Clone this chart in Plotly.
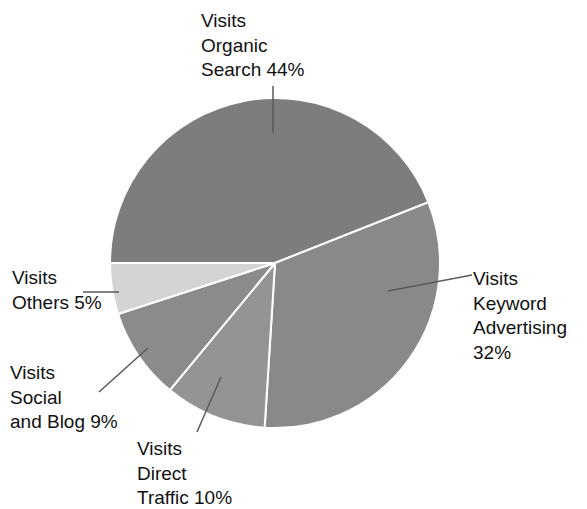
import plotly.graph_objects as go

# Traffic sources share (percent of visits)
sources = ["Organic<br>Search", "Keyword<br>Advertising<br>", "Direct<br>Traffic", "Social<br>and Blog", "Others"]
shares = [44, 32, 10, 9, 5]
colors = ["#7d7d7d", "#898989", "#949494", "#8b8b8b", "#d4d4d4"]

W, H = 587, 509


def px(x, y):
    """Pixel position (origin top-left) -> paper coordinates."""
    return x / W, 1 - y / H


# Pie placement
cx, cy, r = 275, 263, 165
x0, y1 = px(cx - r, cy - r)
x1, y0 = px(cx + r, cy + r)

fig = go.Figure(
    go.Pie(
        labels=[s.replace("<br>", " ").strip() for s in sources],
        values=shares,
        sort=False,
        direction="clockwise",
        rotation=270,
        marker=dict(colors=colors, line=dict(color="white", width=2)),
        textinfo="none",
        textposition="none",
        hoverinfo="label+percent",
        showlegend=False,
        domain=dict(x=[x0, x1], y=[y0, y1]),
    )
)

# Label anchor (left, top) in pixels and leader line (outer end, inner end),
# listed in the same order as the slices
label_pos = [(199, 8), (471, 266), (135, 436), (8, 360), (10, 265)]
leaders = [
    ((273, 86), (273, 133)),
    ((472, 275), (388, 291)),
    ((197, 432), (221, 377)),
    ((99, 392), (148, 348)),
    ((83, 292), (119, 292)),
]

for name, val, (lx, ly), (p, q) in zip(sources, shares, label_pos, leaders):
    sep = "" if name.endswith("<br>") else " "
    text = f"Visits<br>{name}{sep}{val}%"
    ax, ay = px(lx, ly)
    fig.add_annotation(
        x=ax, y=ay, xref="paper", yref="paper",
        xanchor="left", yanchor="top", align="left",
        text=text, showarrow=False,
        font=dict(family="Liberation Sans, Arial, sans-serif", size=19, color="#111111"),
    )
    (ax0, ay0), (ax1, ay1) = px(*p), px(*q)
    fig.add_shape(
        type="line", xref="paper", yref="paper",
        x0=ax0, y0=ay0, x1=ax1, y1=ay1,
        line=dict(color="#5a5a5a", width=1.5),
    )

fig.update_layout(
    width=W, height=H,
    margin=dict(l=0, r=0, t=0, b=0),
    paper_bgcolor="white",
    plot_bgcolor="white",
)

fig.write_html("out.html")
